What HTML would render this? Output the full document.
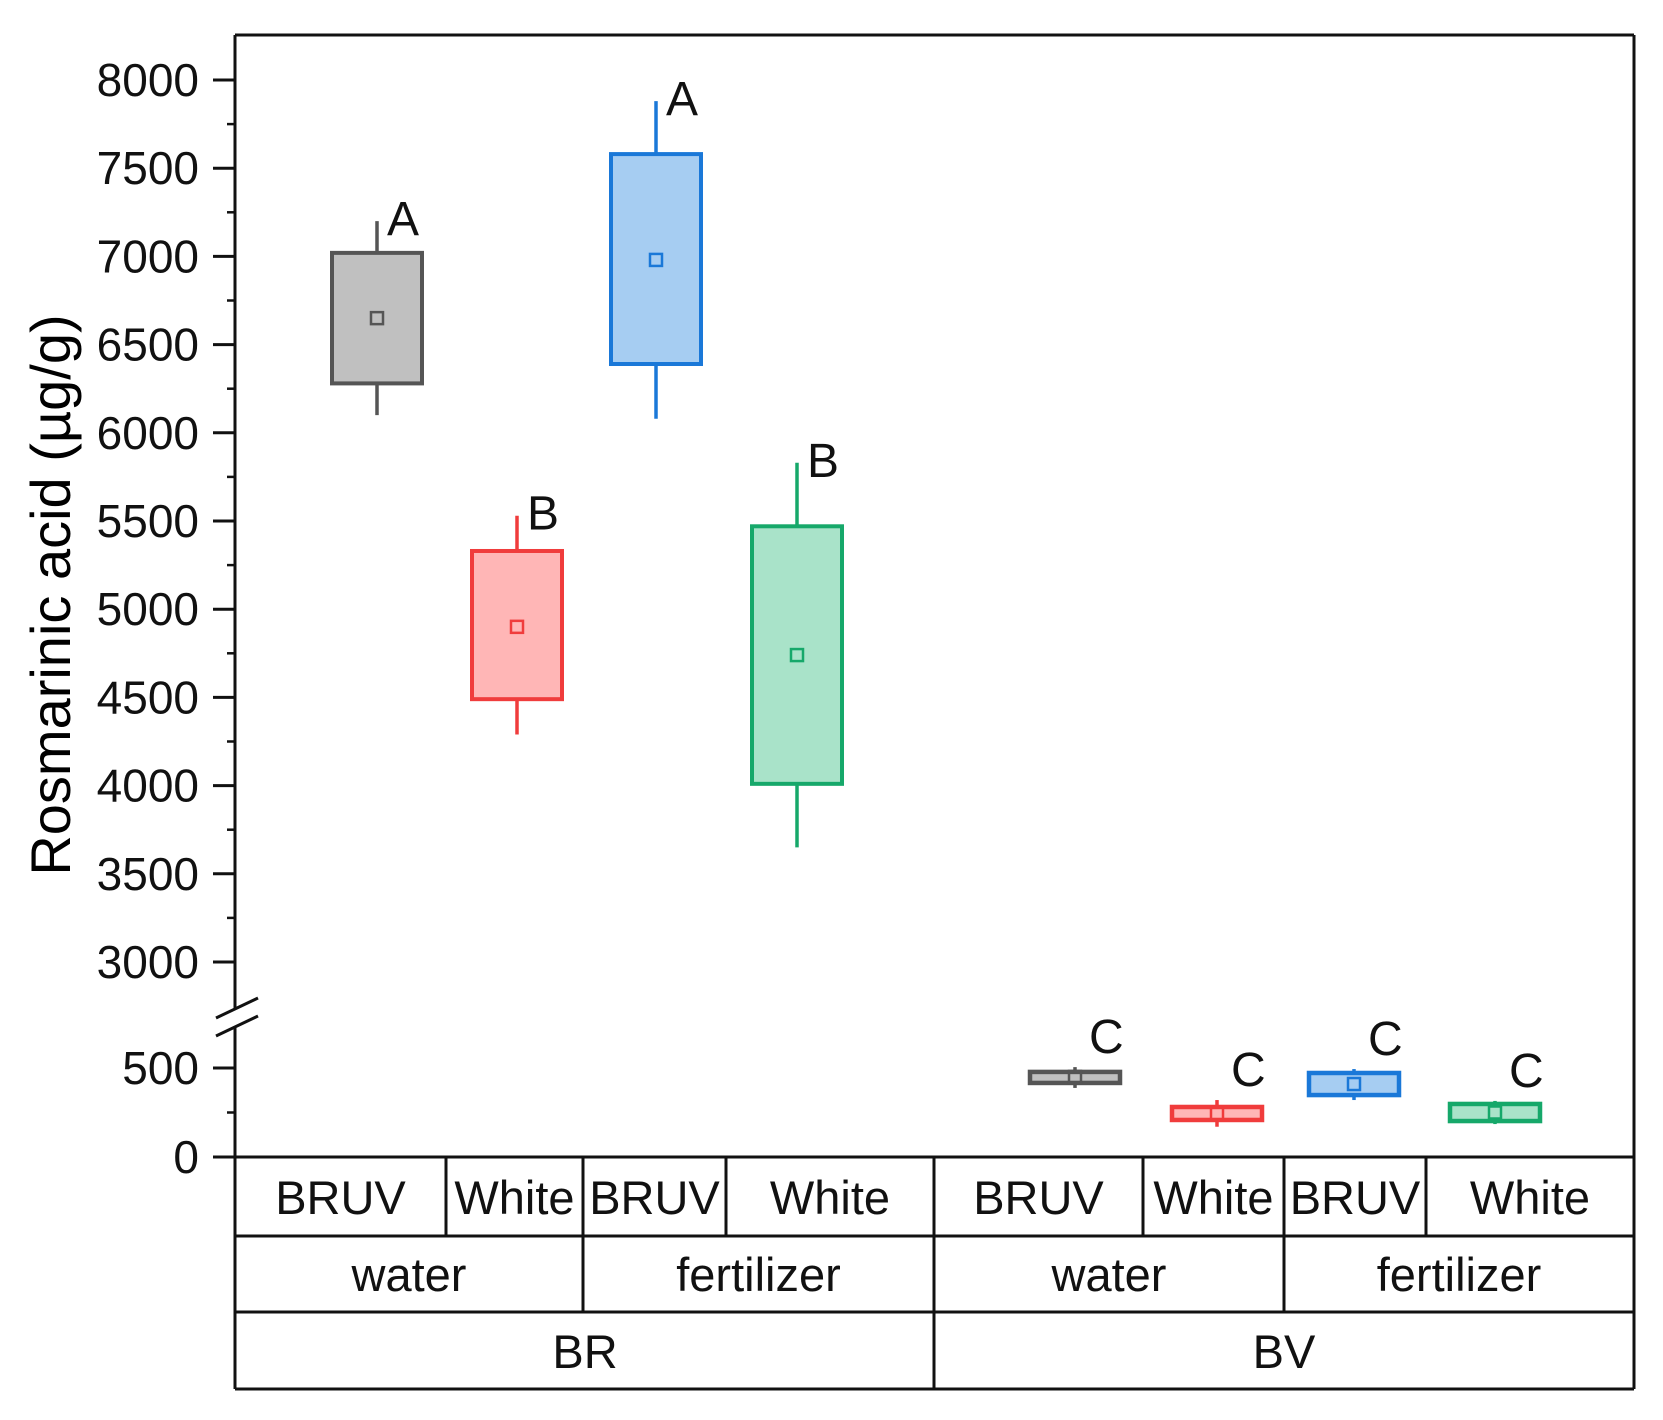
<!DOCTYPE html>
<html><head><meta charset="utf-8"><style>
html,body{margin:0;padding:0;background:#fff;}
svg{display:block;font-family:"Liberation Sans",Arial,sans-serif;}
</style></head><body>
<svg id="chart" width="1663" height="1420" viewBox="0 0 1663 1420">
<g id="frame"></g>
<g id="yaxis"></g>
<g id="boxes"></g>
<g id="table"></g>
<text x="0" y="0" transform="translate(70,595) rotate(-90)" text-anchor="middle" font-size="56" fill="#000">Rosmarinic acid (µg/g)</text>
</svg>
<script>
const categories = ["BR water BRUV","BR water White","BR fertilizer BRUV","BR fertilizer White","BV water BRUV","BV water White","BV fertilizer BRUV","BV fertilizer White"];
const whiskerLow = [6100,4290,6080,3650,388,170,320,185];
const boxLow = [6280,4490,6390,4010,416,208,348,202];
const meanVals = [6650,4900,6980,4740,450,245,410,250];
const boxHigh = [7020,5330,7580,5470,478,281,472,298];
const whiskerHigh = [7200,5530,7880,5830,505,320,494,315];
const letters = ["A","B","A","B","C","C","C","C"];
const upperTicks = [3000,3500,4000,4500,5000,5500,6000,6500,7000,7500,8000];
const lowerTicks = [0,500];
const strokeColors = ["#555555","#f03c3c","#1a78d8","#16a86a","#555555","#f03c3c","#1a78d8","#16a86a"];
const fillColors = ["#c0c0c0","#ffb6b6","#a6cdf2","#a9e3c9","#c0c0c0","#ffb6b6","#a6cdf2","#a9e3c9"];

const NS="http://www.w3.org/2000/svg";
function mk(tag,attrs,parent,txt){const e=document.createElementNS(NS,tag);for(const k in attrs)e.setAttribute(k,attrs[k]);if(txt!==undefined)e.textContent=txt;parent.appendChild(e);return e;}
const L=235,R=1634,T=35,XA=1157,B=1389;
function yScale(v){ if(v>=2000) return 962-(v-3000)*(882/5000); return 1157-v*(89/500); }
const colEdges=[235,446,583,726,934,1143,1284,1426,1634];
function xCenter(i){return (colEdges[i]+colEdges[i+1])/2;}
const xCenters=[377,517,656,797,1075,1217,1354,1495];
function xScale(i){return xCenters[i];}

const frame=document.getElementById('frame');
let e;
e=mk('line',{x1:L,y1:T,x2:R,y2:T,stroke:'#111','stroke-width':3},frame);

e=mk('line',{x1:R,y1:T,x2:R,y2:B,stroke:'#111','stroke-width':3},frame);


const ya=document.getElementById('yaxis');
e=mk('line',{x1:L,y1:T,x2:L,y2:1008,stroke:'#111','stroke-width':3},ya);

e=mk('line',{x1:L,y1:1028,x2:L,y2:B,stroke:'#111','stroke-width':3},ya);

e=mk('line',{x1:216,y1:1018,x2:258,y2:998,stroke:'#111','stroke-width':3},ya);

e=mk('line',{x1:216,y1:1036,x2:258,y2:1016,stroke:'#111','stroke-width':3},ya);

e=mk('line',{x1:213,y1:XA,x2:R,y2:XA,stroke:'#111','stroke-width':3},ya);

upperTicks.concat(lowerTicks).forEach(v=>{
  const y=yScale(v);
  const t=mk('line',{x1:213,y1:y,x2:L,y2:y,stroke:'#111','stroke-width':3},ya);
  
  const lb=mk('text',{x:199,y:y+16,'text-anchor':'end','font-size':46,fill:'#111'},ya,String(v));
  
});
for(let v=3250;v<8250;v+=500){const y=yScale(v);const t=mk('line',{x1:227,y1:y,x2:L,y2:y,stroke:'#111','stroke-width':2.5},ya);}
[250].forEach(v=>{const y=yScale(v);const t=mk('line',{x1:227,y1:y,x2:L,y2:y,stroke:'#111','stroke-width':2.5},ya);});

const bx=document.getElementById('boxes');
const W=90;
categories.forEach((c,i)=>{
  const g=mk('g',{},bx);
  
  
  const x=xScale(i), col=strokeColors[i], sw=i<4?4:4.5;
  const w1=mk('line',{x1:x,y1:yScale(whiskerLow[i]),x2:x,y2:yScale(whiskerHigh[i]),stroke:col,'stroke-width':3.5},g);
  
  const yt=yScale(boxHigh[i]), yb=yScale(boxLow[i]);
  const r=mk('rect',{x:x-W/2,y:yt,width:W,height:yb-yt,fill:fillColors[i],stroke:col,'stroke-width':sw},g);
  
  const ym=yScale(meanVals[i]);
  const m=mk('rect',{x:x-6,y:ym-6,width:12,height:12,fill:'none',stroke:col,'stroke-width':2.5},g);
  
  const lx=i<4?x+10:x+14, ly=i<4?yScale(whiskerHigh[i])+14:yScale(whiskerHigh[i])-14;
  const lt=mk('text',{x:lx,y:ly,'font-size':48,fill:'#111'},g,letters[i]);
  
});

const tb=document.getElementById('table');
const rows=[1157,1236,1312,1389];
rows.slice(1).forEach(y=>{const l=mk('line',{x1:L,y1:y,x2:R,y2:y,stroke:'#111','stroke-width':3},tb);});
const row1=["BRUV","White","BRUV","White","BRUV","White","BRUV","White"];
colEdges.slice(1,-1).forEach(x=>{const l=mk('line',{x1:x,y1:1157,x2:x,y2:1236,stroke:'#111','stroke-width':3},tb);});
row1.forEach((t,i)=>{const s=mk('text',{x:xCenter(i),y:1214,'text-anchor':'middle','font-size':47,fill:'#111'},tb,t);});
const row2Edges=[235,583,934,1284,1634];const row2=["water","fertilizer","water","fertilizer"];
row2Edges.slice(1,-1).forEach(x=>{const l=mk('line',{x1:x,y1:1236,x2:x,y2:1312,stroke:'#111','stroke-width':3},tb);});
row2.forEach((t,i)=>{const s=mk('text',{x:(row2Edges[i]+row2Edges[i+1])/2,y:1291,'text-anchor':'middle','font-size':47,fill:'#111'},tb,t);});
const l3=mk('line',{x1:934,y1:1312,x2:934,y2:B,stroke:'#111','stroke-width':3},tb);
[["BR",585],["BV",1284]].forEach(([t,x])=>{const s=mk('text',{x:x,y:1368,'text-anchor':'middle','font-size':47,fill:'#111'},tb,t);});
</script>
</body></html>
